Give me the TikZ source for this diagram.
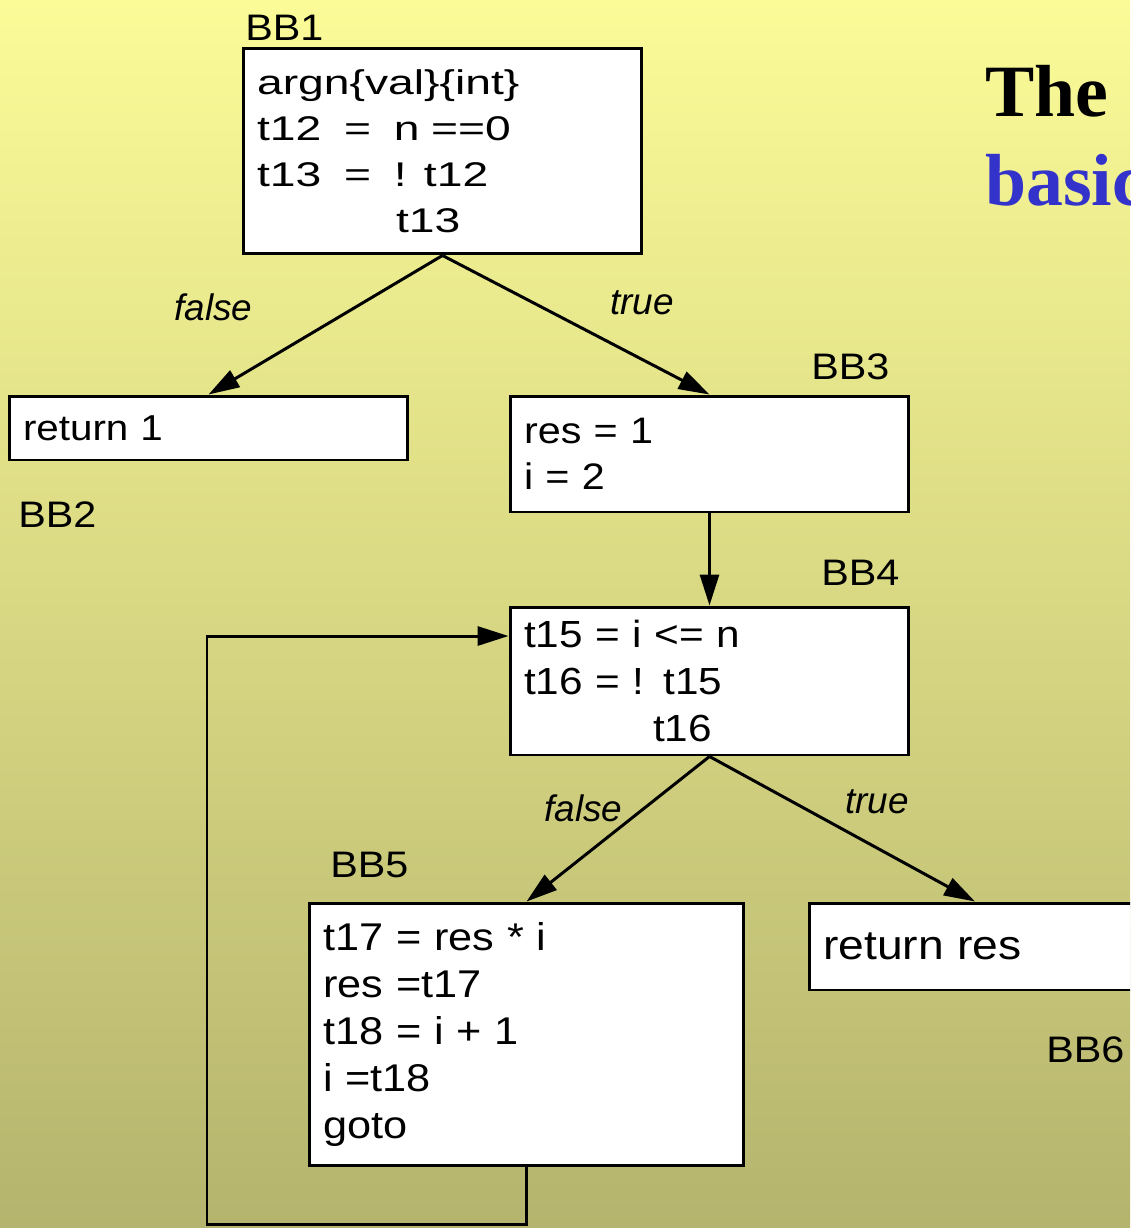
\documentclass[tikz,border=0pt]{standalone}
\usepackage{fontspec}
\usepackage{xcolor}
\usepackage{tikz}
\usetikzlibrary{arrows.meta,positioning}
\setmainfont{Liberation Sans}
\newfontfamily\cfgfont[FakeStretch=1.12, WordSpace=0.7]{Liberation Sans}
\newfontfamily\cfgwidefont[FakeStretch=1.35]{Liberation Sans}
\newfontfamily\tagfont[FakeStretch=1.12]{Liberation Sans}
\newfontfamily\titlefont{Liberation Serif}
\definecolor{slidetop}{RGB}{251, 251, 152}
\definecolor{slidebottom}{RGB}{181, 180, 110}
\definecolor{titleblue}{RGB}{51, 51, 204}

\begin{document}
\begin{tikzpicture}[x=0.02cm, y=-0.02cm,
    block/.style={draw, line width=1.7pt, fill=white, align=left, inner xsep=0.28cm, inner ysep=0pt},
    tag/.style={anchor=base west, inner sep=0pt, font={\tagfont\fontsize{21}{25}\selectfont}},
    branch/.style={anchor=base west, inner sep=0pt, font={\itshape\fontsize{21}{25}\selectfont}},
    flow/.style={line width=1.7pt, -{Triangle[length=0.62cm, width=0.38cm]}}]
            % Slide background
            \useasboundingbox (0,0) rectangle (1130,1228);
            \clip (0,0) rectangle (1130,1228);
            \shade[top color=slidetop, bottom color=slidebottom] (0,0) rectangle (1130,1228);
            
            % Title, cut by the slide edge
            \node[anchor=base west, inner sep=0pt, font={\titlefont\bfseries\fontsize{42}{48}\selectfont}] (title1) at (985,116) {The};
            \node[anchor=base west, inner sep=0pt, titleblue, font={\titlefont\bfseries\fontsize{42}{48}\selectfont}] (title2) at (985,205) {basic};
            
            % Basic blocks
            \node[block, text width=7.42cm, minimum height=4.12cm, font={\cfgwidefont\fontsize{19.5}{26.2}\selectfont}] (bb1) at (442.5,151) {argn\{val\}\{int\}\\ t12 \ = \ n ==0\\ t13 \ = \ ! t12\\ \hspace*{2.78cm}t13};
            \node[block, text width=7.42cm, minimum height=1.28cm, font={\cfgfont\fontsize{20.5}{26}\selectfont}] (bb2) at (208.5,428) {return 1};
            \node[block, text width=7.42cm, minimum height=2.32cm, font={\cfgfont\fontsize{21}{26}\selectfont}] (bb3) at (709.5,454) {res = 1\\ i = 2};
            \node[block, text width=7.42cm, minimum height=2.96cm, font={\cfgfont\fontsize{21.5}{26.5}\selectfont}] (bb4) at (709.5,681) {t15 = i <= n\\ t16 = ! t15\\ \hspace*{2.58cm}t16};
            \node[block, text width=8.14cm, minimum height=5.26cm, font={\cfgfont\fontsize{22}{26.8}\selectfont}] (bb5) at (526.5,1034.5) {t17 = res * i\\ res =t17\\ t18 = i + 1\\ i =t18\\ goto};
            \node[block, text width=6.08cm, minimum height=1.74cm, font={\cfgfont\fontsize{23.5}{28}\selectfont}] (bb6) at (975,946.5) {return res};
            
            % Block names
            \node[tag] (name1) at (245,40) {BB1};
            \node[tag] (name2) at (18,527) {BB2};
            \node[tag] (name3) at (811,379) {BB3};
            \node[tag] (name4) at (821,585) {BB4};
            \node[tag] (name5) at (330,877) {BB5};
            \node[tag] (name6) at (1046,1062) {BB6};
            
            % Control flow
            \coordinate (loop) at (207,1224);
            \draw[flow] (bb1.south) -- (bb2.north);
            \draw[flow] (bb1.south) -- (bb3.north);
            \draw[flow] (bb3.south) -- (bb4.north);
            \draw[flow] (bb4.south) -- (bb5.north);
            \draw[flow] (bb4.south) -- (bb6.north);
            \draw[flow] (bb5.south) |- (loop) |- ([yshift=0.9cm]bb4.west);
            
            % Branch labels
            \node[branch] (f1) at (174,320) {false};
            \node[branch] (t1) at (610,314) {true};
            \node[branch] (f2) at (544,821) {false};
            \node[branch] (t2) at (845,813) {true};
        \end{tikzpicture}
\end{document}
